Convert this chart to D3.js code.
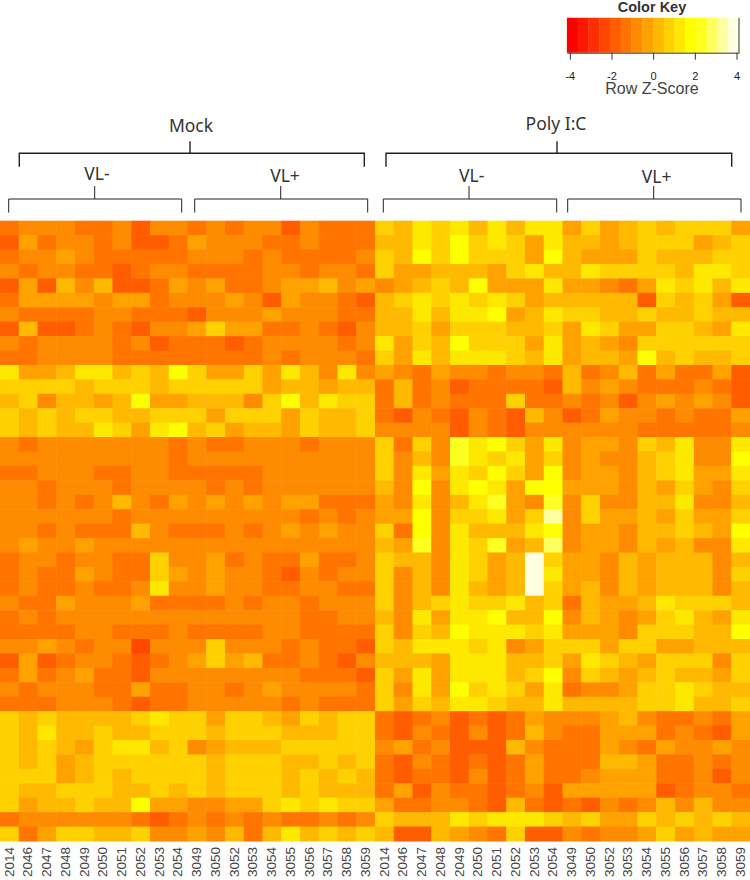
<!DOCTYPE html>
<html>
<head>
<meta charset="utf-8">
<script src="https://cdn.jsdelivr.net/npm/d3@7"></script>
<style>
  html, body { margin: 0; padding: 0; background: #fff; }
</style>
</head>
<body>
<div id="chart"></div>
<script>
// sample ids, the same 20 appear under Mock and under Poly I:C
const sampleIds = ["2014","2046","2047","2048","2049","2050","2051","2052","2053","2054",
                   "3049","3050","3052","3053","3054","3055","3056","3057","3058","3059"];
const columnLabels = sampleIds.concat(sampleIds);

const keyTicks = [-4, -2, 0, 2, 4];
const keyRange = [-4.14, 4.12];
const heatColors = ["#FF0000","#FF1700","#FF2E00","#FF4600","#FF5D00","#FF7400","#FF8B00","#FFA200",
                    "#FFB900","#FFD100","#FFE800","#FFFF00","#FFFF20","#FFFF60","#FFFF9F","#FFFFDF"];

// row z-scores, one line per gene, 40 samples each
const zScores = [
[-1.2,-.8,-.8,-.8,-1.2,-1.2,-.8,-1.8,-.8,-.8,-1.2,-.8,-1.2,-.8,-.8,-1.8,-.8,-1.2,-1.2,-1.2,.8,.2,1.2,.8,1.2,.2,1.2,.2,1.2,1.2,-.2,.8,-.2,.2,.8,.2,.8,.8,.8,-.2],
[-1.8,-.2,-1.2,-.8,-.8,-1.2,-.8,-1.8,-1.8,-1.2,-.2,-.8,-.8,-.8,-1.2,-1.2,-.8,-1.2,-1.2,-1.2,.2,.2,1.2,.8,1.8,.8,1.2,.8,-.2,1.2,.2,.2,-.2,.2,.8,.8,.8,-.2,.2,.8],
[-1.2,-.8,-.8,-.2,-.8,-1.2,-1.2,-1.2,-1.2,-1.2,-.8,-.8,-.8,-1.2,-.8,-1.2,-1.2,-1.2,-1.2,-.8,.8,.2,1.8,.8,1.8,.8,.8,.8,-.2,1.8,.2,-.2,-.2,-.2,.8,.2,.2,.2,.8,.8],
[-.8,-1.2,-.8,-.8,-1.2,-1.2,-1.8,-1.2,-.8,-.8,-1.2,-1.2,-1.2,-1.2,-.8,-.8,-1.2,-.8,-.8,-1.2,.8,-.2,-.2,.2,.2,.2,-.2,.8,1.2,.2,.2,1.2,.8,.8,.8,.8,.2,1.2,1.2,.8],
[-1.8,-.2,-1.8,.2,-.8,.2,-1.8,-1.8,-1.2,-.2,-.8,-.2,-1.2,-1.2,-.8,-.2,-.2,.2,-.8,-.2,-.8,-.2,.2,.8,.2,1.8,-.2,-.2,-.2,1.2,-.2,-.2,-.8,-1.2,-.2,1.2,.8,1.2,.2,1.2],
[-1.2,-.2,-.2,-.2,-.2,-.8,-.2,-.2,-1.2,-.8,-.8,-.8,-.2,-.8,-1.8,-.2,-.8,-.8,-1.2,-1.8,.2,.8,1.2,.8,1.2,.8,1.2,.8,-.2,.2,.2,.2,.2,.2,-1.8,.8,.2,.8,-.2,-1.8],
[-.8,-1.2,-1.2,-1.2,-1.2,-.8,-.8,-1.2,-1.2,-1.2,-1.8,-.8,-.8,-.8,-.2,-.8,-.8,-.8,-1.2,-1.2,.2,.2,1.2,.2,1.2,1.2,1.8,-.2,.2,1.2,.8,.8,.2,.2,.8,.2,.2,.8,.2,.2],
[-1.8,.2,-1.8,-1.8,-1.2,-.8,-1.2,-1.8,-.8,-.8,-.2,.8,-.2,-.2,-1.2,-1.2,-.8,-1.2,-1.8,-.8,.2,.2,.8,-.2,.8,.8,.8,.2,.2,.8,-.2,1.2,.8,-.2,-.2,.8,.8,.2,-.2,1.2],
[-.8,-1.2,-.8,-.8,-.8,-.8,-1.2,-.8,-1.8,-1.2,-1.2,-1.2,-1.8,-1.2,-.8,-.8,-.8,-.8,-1.2,-.8,1.2,-.2,.8,.2,1.8,.8,.8,.8,-.2,1.2,-.2,.2,-.2,-.8,.8,.8,.8,.8,.8,.8],
[-1.2,-1.2,-.8,-.8,-.8,-.8,-1.2,-1.2,-1.2,-1.2,-1.2,-1.2,-1.2,-1.2,-.8,-1.2,-.8,-.8,-.8,-1.2,.8,-.2,1.2,.2,1.2,1.2,1.2,.8,.2,1.2,-.2,.2,.2,-.2,1.8,.2,.8,.2,.2,.8],
[1.2,-.2,-.2,.2,1.2,1.2,.2,.8,.2,1.8,.8,-.2,-.2,.8,-.2,1.2,.2,-.8,1.2,-.8,-.2,-.8,-1.2,-.2,-.8,-.8,-1.2,-.8,-.8,-1.2,.2,-1.2,-.8,.2,-1.2,-.2,-1.2,-1.2,-.2,-1.8],
[.8,.8,.8,.8,.2,.8,.8,.8,.2,.8,.8,.8,.8,.8,-.2,.2,.2,-.2,.2,.2,-1.2,.2,-1.2,-.8,-1.8,-1.2,-1.2,-1.2,-1.2,-1.8,.2,-.8,-.2,-.8,-1.2,-1.2,-1.2,-.8,-1.2,-1.8],
[.2,.8,-.8,.2,.2,-.2,.2,1.8,-.2,-.2,.2,.2,.2,-.8,.8,1.8,.2,1.2,.8,.8,-1.2,.2,-1.2,-.8,-1.2,-1.2,-1.2,.8,-1.2,-1.2,-.8,-1.2,-.8,-1.8,-.8,-.2,-.8,-.2,-.8,-1.8],
[.8,.2,.8,.2,.8,.8,.2,.2,.8,.8,.8,-.2,.8,.8,.8,-.2,.8,.2,.2,.8,-1.2,-1.8,-.8,-1.2,-1.8,-.8,-1.2,-1.8,.2,-.8,-1.8,-1.2,-.2,-.8,-.8,-1.2,-.8,-1.2,-1.2,-.2],
[.8,.2,.8,.2,.2,1.2,.8,-.2,1.2,1.8,.2,.8,-.2,.2,.2,-.2,.8,.2,.2,.8,-.8,-.8,-.8,-.8,-1.8,-.8,-1.2,-1.8,-.8,-.8,-.8,-.8,-.8,-.8,-1.2,-1.2,-1.2,-1.2,-1.2,-.8],
[-.8,-1.2,-.8,-.8,-.8,-.8,-.8,-.8,-.8,-1.2,-.8,-1.2,-1.2,-.8,-.8,-.8,-1.2,-.8,-.8,-.8,.8,-1.2,.8,-.8,2.2,1.2,1.8,.8,-.2,1.2,-.8,-.2,-.2,-.8,.8,.2,1.2,-.8,-.8,1.2],
[-.8,-.8,-.8,-.8,-.8,-.8,-.8,-.8,-.8,-1.2,-.8,-.8,-.8,-.8,-.8,-.8,-.8,-.8,-.8,-.8,.8,-.8,.2,-.8,2.2,1.2,.8,1.2,-.2,.8,-.8,-.2,-.8,-.8,.2,.8,1.2,-.8,-.8,1.8],
[-1.2,-1.2,-.8,-.8,-.8,-1.2,-1.2,-.8,-.8,-1.2,-1.2,-1.2,-1.2,-1.2,-.8,-.8,-.8,-.8,-.8,-.8,.8,-.8,1.2,-.2,1.2,.8,1.8,.8,-.2,1.8,-.8,-.2,-.2,-.8,.2,.8,1.2,-.2,-.2,1.2],
[-.8,-.8,-1.2,-.8,-.8,-.8,-1.2,-.8,-.8,-.8,-.8,-1.2,-.8,-1.2,-.8,-.8,-.8,-.8,-.8,-.8,.2,-.8,1.8,-.8,1.2,1.8,1.2,-.2,1.8,1.8,-.2,-.2,-.2,-.8,.2,-.2,.8,-.2,-.8,.8],
[-.8,-.8,-1.2,-.8,-1.2,-.8,.2,-.8,-1.2,-.2,-.8,-.2,-.8,-.2,-.8,-.2,-.2,-1.2,-1.2,-1.2,-.2,-.8,1.2,-.8,.2,1.2,2.2,-.2,-.8,2.2,-.8,.8,-.8,-.8,.2,.2,1.2,-.8,-.8,.2],
[-.8,-.8,-.8,-.8,-.8,-.8,-1.2,-.8,-.8,-.8,-.8,-.8,-.8,-.8,-.8,-.8,-1.2,-.8,-1.2,-.8,-.2,-.2,1.8,-.8,.8,.8,1.2,-.2,.8,3.2,-.8,.8,-.2,-.2,.2,-.2,.8,-.2,-.2,.8],
[-.8,-.8,-1.2,-.8,-1.2,-1.2,-1.2,.2,-.8,-1.2,-1.2,-1.2,-.8,-1.2,-.8,-.2,-.8,-.2,-.8,-.8,.8,-1.2,1.8,-.8,1.2,.2,.2,.2,1.2,1.8,-.8,-.2,-.2,-.8,.2,.2,.8,.2,-.2,1.8],
[-.8,-.2,-.8,-.8,-.2,-.8,-.8,-.8,-.8,-.8,-.8,-.8,-.8,-.8,-.8,-.8,-.8,-.8,-.8,-.8,.2,-.2,2.2,-.8,1.2,.8,2.2,-.2,.2,2.8,-.8,-.2,-.2,-.8,.2,-.2,.2,-.8,-.8,1.2],
[-1.2,-.8,-.8,-1.2,-.8,-.8,-1.2,-1.2,.8,-.8,-.8,-.2,-1.2,-.8,-1.2,-1.2,-.2,-1.2,-1.2,-.8,.8,.2,.2,-.8,1.2,.8,-.2,.2,3.8,.8,-.2,-.2,-.8,.2,-.2,.2,.2,.2,-.8,.2],
[-1.2,-.8,-1.2,-1.2,-.2,-.8,-1.2,-1.2,.8,-.2,-.8,-.2,-.8,-.8,-1.2,-1.8,-.8,-1.2,-.8,-.8,.8,-.8,.2,-.8,1.2,.8,-.2,.2,3.8,1.2,-.2,-.2,-.8,.2,-.2,.2,.2,.2,-.8,.8],
[-1.2,-.8,-1.2,-1.2,-.8,-1.2,-1.2,-.8,1.2,-.8,-.8,-.2,-.8,-.8,-1.2,-1.2,-.8,-.8,-1.2,-1.2,.8,-.8,.2,-.8,1.2,.2,-.2,.2,3.8,.8,-.2,.2,-.8,.2,-.2,.2,.2,.2,-.8,.2],
[-.8,-1.2,-1.2,-.2,-.8,-.8,-.8,-.2,-1.2,-1.2,-1.2,-1.2,-.8,-1.2,-.8,-.8,-1.2,-.8,-.8,-.8,.8,-.8,.2,.8,1.2,.8,.8,1.2,.2,.8,-1.2,.2,-.2,-.2,.2,1.2,.8,.8,.8,.2],
[-1.2,-.8,-1.2,-.8,-.8,-.8,-.8,-.8,-.8,-.8,-.8,-.8,-.8,-.8,-.8,-.8,-1.2,-1.2,-.8,-.8,.2,-.8,1.2,-.2,1.2,1.2,1.8,.2,.2,1.8,-.8,.2,-.2,-.8,-.2,.8,1.2,.2,-.2,1.2],
[-1.2,-1.2,-1.2,-1.2,-.8,-.8,-1.2,-1.2,-1.2,-.8,-1.2,-1.2,-1.2,-1.2,-.8,-.8,-1.2,-1.2,-1.2,-1.2,.8,-.8,.8,.2,1.8,1.2,1.2,1.2,.8,1.2,-.2,-.2,-.2,-.8,.8,.8,.8,.2,.2,1.8],
[-.8,-.8,-.2,-.8,-1.2,-.8,-.8,-2.2,-.8,-.8,-.8,.8,-.8,-.8,-.8,-1.2,-.8,-1.2,-1.2,-1.8,.8,.2,1.2,1.2,1.2,.8,1.2,-.8,-.2,.8,.8,.8,-.2,.8,.8,-.2,-.2,.2,.2,.2],
[-1.8,-.2,-1.8,-1.2,-.8,-.8,-1.2,-1.8,-1.2,-.8,-.2,.8,-.2,.2,-1.2,-1.2,-.8,-1.2,-1.8,-.8,.2,.2,.2,-.2,1.2,1.2,1.2,.2,.2,.8,-.2,1.2,.8,.2,-.2,.8,.8,.8,-.8,.8],
[-1.2,-.2,-1.2,-.8,-.2,-1.2,-1.2,-1.8,-.8,-.8,-.8,-.8,-.8,-.8,-.8,-.8,-1.2,-1.2,-1.2,-1.8,.8,-.2,1.2,-.2,1.2,1.2,1.2,.2,.8,1.8,-.8,.8,.2,-.2,.2,.8,.2,.2,-.2,.8],
[-.8,-1.2,-.8,-.8,-.8,-1.2,-1.2,-.2,-1.2,-1.2,-.8,-.8,-1.2,-.8,-.2,-.8,-.8,-.8,-.8,-1.2,.8,-.8,1.2,-.2,1.8,.8,1.2,.8,-.2,1.2,-1.2,-.8,-.8,-.2,.8,.8,1.2,.8,.2,.2],
[-1.2,-1.2,-1.2,-.8,-.8,-.8,-1.2,-1.8,-1.2,-1.2,-.8,-.8,-.8,-.8,-.8,-1.2,-.8,-1.2,-1.2,-1.2,.8,-.2,.8,.2,1.2,1.2,.8,.2,.2,1.2,.2,.2,.2,.2,.8,.8,1.2,.2,.2,.8],
[.8,.2,.8,.2,.2,.2,.2,.8,1.2,.8,.8,-.2,.8,.8,.2,-.2,.8,.2,.8,.8,-1.2,-1.8,-1.2,-.8,-1.8,-1.2,-1.8,-1.2,-.2,-.8,-.8,-.8,-.2,.2,-.8,-1.2,-1.2,-.8,-1.2,-.2],
[.8,.2,1.2,.2,.2,.8,.2,.2,.8,.8,.8,.2,.8,.8,.8,.2,.2,.2,.8,.8,-1.2,-1.8,-.8,-1.2,-1.8,-.8,-1.8,-1.2,.2,-.8,-1.2,-1.2,-.2,-.2,-.2,-1.2,-.8,-1.2,-1.8,-.2],
[.8,.2,.8,.2,-.2,.8,1.2,1.2,.2,.8,-.8,-.2,.2,.2,.2,.8,.8,.8,.8,.8,-.8,-.2,-1.2,-.8,-1.8,-1.8,-1.8,.2,-.8,-1.2,-1.2,-1.2,-.2,-.8,-1.2,-.2,-.8,-.8,-.2,-.8],
[.8,.2,.8,-.2,.2,.8,.8,.8,.8,.8,.8,.2,.8,.8,.8,.2,.2,.8,.2,.8,-1.2,-1.8,-.8,-1.2,-1.8,-1.2,-1.8,-1.2,-.2,-1.2,-1.2,-1.2,.2,.2,-.2,-1.2,-1.2,-.8,-1.2,-.8],
[.8,.8,.8,-.2,.2,.8,.2,.8,.8,.8,.8,.2,.8,.8,.8,.2,.8,.2,.8,.2,-1.2,-1.8,-1.2,-1.2,-1.8,-.8,-1.8,-1.2,-.2,-1.2,-1.2,-.8,-.2,-.2,-.2,-1.2,-1.2,-.8,-1.8,-.8],
[.8,.2,.2,.8,.8,.8,.2,.2,.8,.2,.8,.2,.8,.8,.8,.2,.8,.2,.2,.2,-1.2,-.2,-1.8,-.8,-1.2,-1.2,-1.8,-1.2,-.8,-1.8,-.2,-.2,-.2,-.2,-.2,-1.8,-1.2,-.8,-.8,-1.2],
[.8,-.2,.2,.2,.8,.2,.2,1.8,-.2,-.2,-.8,-.8,-.2,-.2,.8,1.2,.8,1.2,.8,.8,-.2,-1.2,-1.2,-.8,-.8,-1.2,-1.8,.2,-1.2,-1.8,-1.2,-1.8,-.8,-1.2,-.8,.2,-.8,.2,-.8,-.8],
[-1.2,-.8,-.8,-.8,-.8,-.8,-.8,-1.2,-1.8,-1.2,-.8,-1.2,-.8,-1.2,-.8,-1.2,-1.2,-.8,-1.2,-.8,.8,.2,.2,.2,1.2,.8,1.2,1.2,1.2,.8,.2,.8,-.2,-.2,.8,.2,.8,.2,.8,.2],
[.8,-1.2,-.2,.8,.8,.2,.2,.8,-.8,-.8,-.2,-.8,.2,-1.2,.2,1.2,.2,.8,.2,.8,.2,-1.8,-1.8,.2,-.2,-.8,-1.2,.8,-1.8,-1.8,-.8,-1.2,-.8,-.8,-.2,.8,-.2,.2,-.2,-.2]
];

const width = 750, height = 880;
const heatTop = 220.7, heatBottom = 841;

const svg = d3.select("#chart").append("svg")
  .attr("width", width)
  .attr("height", height)
  .style("display", "block");

// the source is a resampled image, a small blur gets the soft cell edges
svg.append("defs").append("filter")
  .attr("id", "soft")
  .attr("x", 0).attr("y", 0).attr("width", 1).attr("height", 1)
  .append("feGaussianBlur")
  .attr("stdDeviation", 0.6);

var xScale = d3.scaleBand().domain(d3.range(columnLabels.length)).range([0, width]);
var yScale = d3.scaleBand().domain(d3.range(zScores.length)).range([heatTop, heatBottom]);
var color = d3.scaleQuantize().domain(keyRange).range(heatColors);

// heatmap cells
svg.append("g")
  .attr("filter", "url(#soft)")
  .selectAll("g")
  .data(zScores)
  .enter()
  .append("g")
  .selectAll("rect")
  .data(function (row, r) { return row.map(function (z, c) { return { r: r, c: c, z: z }; }); })
  .enter()
  .append("rect")
  .attr("x", function (d) { return xScale(d.c); })
  .attr("y", function (d) { return yScale(d.r); })
  .attr("width", xScale.bandwidth() + 0.5)
  .attr("height", yScale.bandwidth() + 0.5)
  .attr("fill", function (d) { return color(d.z); });

// sample labels under the heatmap
var xAxis = svg.append("g")
  .attr("transform", "translate(0," + heatBottom + ")")
  .call(d3.axisBottom(xScale).tickSize(0).tickFormat(function (i) { return columnLabels[i]; }));
xAxis.select(".domain").remove();
xAxis.selectAll("text")
  .attr("transform", "rotate(-90)")
  .attr("x", -36)
  .attr("y", 0)
  .attr("dy", "0.35em")
  .attr("text-anchor", "start")
  .attr("textLength", 30)
  .attr("lengthAdjust", "spacingAndGlyphs")
  .style("font-family", "'Liberation Sans', Arial, sans-serif")
  .style("font-size", "12px")
  .style("fill", "#444");

// color key
var keyX = d3.scaleLinear().domain(keyRange).range([566.9, 739]);
var keyTop = 17.8, keyBottom = 52.7;
var binWidth = (keyRange[1] - keyRange[0]) / heatColors.length;

svg.append("g")
  .selectAll("rect")
  .data(heatColors)
  .enter()
  .append("rect")
  .attr("x", function (d, i) { return keyX(keyRange[0] + i * binWidth); })
  .attr("y", keyTop)
  .attr("width", keyX(keyRange[0] + binWidth) - keyX(keyRange[0]) + 0.3)
  .attr("height", keyBottom - keyTop)
  .attr("fill", function (d) { return d; });

svg.append("line")
  .attr("x1", keyX(keyRange[1])).attr("x2", keyX(keyRange[1]))
  .attr("y1", keyTop).attr("y2", keyBottom)
  .attr("stroke", "#333");

var keyAxis = svg.append("g")
  .attr("transform", "translate(0," + keyBottom + ")")
  .call(d3.axisBottom(keyX).tickValues(keyTicks).tickSize(7).tickSizeOuter(0).tickFormat(d3.format("d")));
keyAxis.select(".domain").attr("stroke", "#333");
keyAxis.selectAll("line").attr("stroke", "#333");
keyAxis.selectAll("text")
  .attr("y", 20)
  .attr("dy", "0.71em")
  .text(function (d) { return d; })
  .style("font-family", "'Liberation Sans', Arial, sans-serif")
  .style("font-size", "11px")
  .style("fill", "#222");

svg.append("text")
  .attr("x", 652)
  .attr("y", 12)
  .attr("text-anchor", "middle")
  .style("font-family", "'Liberation Sans', Arial, sans-serif")
  .style("font-size", "14.5px")
  .style("font-weight", "bold")
  .style("fill", "#333")
  .text("Color Key");

svg.append("text")
  .attr("x", 652)
  .attr("y", 94)
  .attr("text-anchor", "middle")
  .style("font-family", "'Liberation Sans', Arial, sans-serif")
  .style("font-size", "16px")
  .style("fill", "#444")
  .text("Row Z-Score");

// group brackets above the heatmap
function bracket(x0, x1, stemX, yTop, legLen, stemLen, weight) {
  var path = d3.path();
  path.moveTo(x0, yTop + legLen);
  path.lineTo(x0, yTop);
  path.lineTo(x1, yTop);
  path.lineTo(x1, yTop + legLen);
  path.moveTo(stemX, yTop);
  path.lineTo(stemX, yTop - stemLen);
  svg.append("path")
    .attr("d", path.toString())
    .attr("fill", "none")
    .attr("stroke", "#222")
    .attr("stroke-width", weight);
}

function groupLabel(x, y, label) {
  svg.append("text")
    .attr("x", x)
    .attr("y", y)
    .attr("text-anchor", "middle")
    .style("font-family", "'Noto Sans', sans-serif")
    .style("font-size", "17.5px")
    .style("fill", "#333")
    .text(label);
}

bracket(19.3, 364.3, 190, 153.3, 13.5, 12, 1.4);
bracket(386, 731.7, 557, 153.3, 13.5, 12, 1.4);
bracket(8.7, 181.7, 94.7, 199, 13.5, 13, 1);
bracket(194.7, 367.7, 280.7, 199, 13.5, 13, 1);
bracket(383.3, 556.7, 469, 199, 13.5, 13, 1);
bracket(567.7, 741, 653.7, 199, 13.5, 13, 1);

groupLabel(191, 132, "Mock");
groupLabel(556, 130, "Poly I:C");
groupLabel(97, 180, "VL-");
groupLabel(285, 182, "VL+");
groupLabel(471.7, 181.7, "VL-");
groupLabel(656.7, 183, "VL+");
</script>
</body>
</html>
